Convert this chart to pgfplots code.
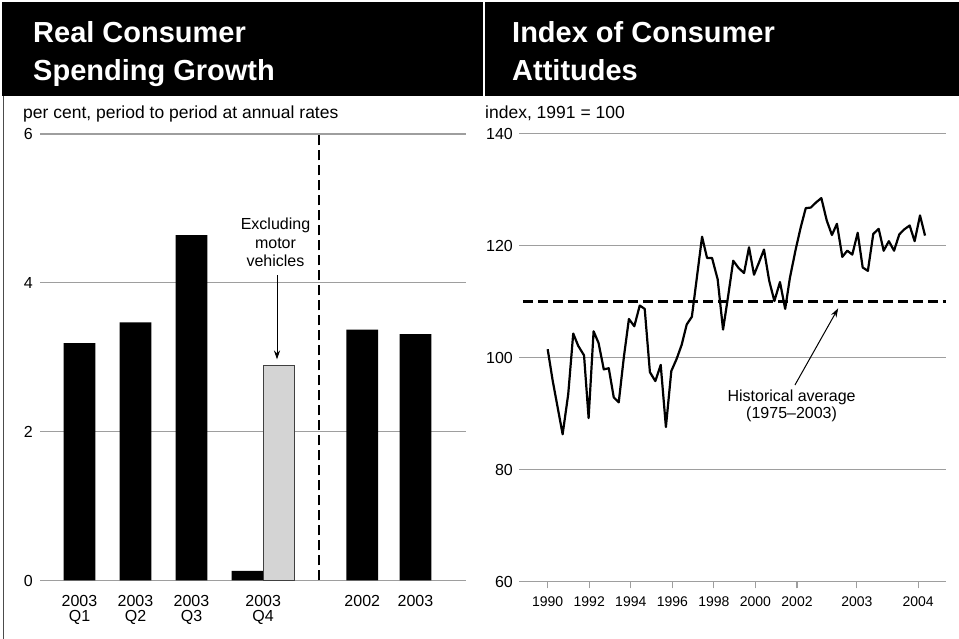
\documentclass[border=0pt]{standalone}
\usepackage{fontspec}
\setmainfont{Liberation Sans}
\usepackage{pgfplots}
\pgfplotsset{compat=1.18}
\usetikzlibrary{arrows.meta}
\begin{document}
\begin{tikzpicture}[x=1pt,y=1pt]
\useasboundingbox (0pt,0pt) rectangle (959pt,639pt);
\fill[white] (0pt,0pt) rectangle (959pt,639pt);
\fill[black] (2pt,543pt) rectangle (482.5pt,637pt);
\fill[black] (485pt,543pt) rectangle (959pt,637pt);
\draw[black!70, line width=1.8pt] (3.5pt,0pt) -- (3.5pt,543pt);
\node[anchor=base west, inner sep=0pt, text=white, font={\fontsize{29}{29}\selectfont\bfseries}] at (33pt,596pt) {Real Consumer};
\node[anchor=base west, inner sep=0pt, text=white, font={\fontsize{29}{29}\selectfont\bfseries}] at (33pt,558pt) {Spending Growth};
\node[anchor=base west, inner sep=0pt, text=white, font={\fontsize{29}{29}\selectfont\bfseries}] at (512pt,596pt) {Index of Consumer};
\node[anchor=base west, inner sep=0pt, text=white, font={\fontsize{29}{29}\selectfont\bfseries}] at (512pt,558pt) {Attitudes};
\node[anchor=base west, inner sep=0pt, font={\fontsize{17.5}{18}\selectfont}] at (23pt,520pt) {per cent, period to period at annual rates};
\node[anchor=base west, inner sep=0pt, font={\fontsize{17.5}{18}\selectfont}] at (485pt,520pt) {index, 1991 = 100};

\begin{axis}[
  at={(40pt,58.5pt)}, anchor=south west, scale only axis,
  width=426pt, height=446.5pt,
  xmin=0.295, xmax=7.902, ymin=0, ymax=6,
  axis line style={draw=none},
  ytick={0,2,4,6}, ymajorgrids,
  grid style={draw=black!38, line width=1.1pt},
  major tick length=0pt,
  xtick={1,2,3,4.28,6.05,7.0},
  xticklabels={{2003\\Q1},{2003\\Q2},{2003\\Q3},{2003\\Q4},2002,2003},
  xticklabel style={align=center, anchor=north, inner sep=0pt, yshift=-15pt, font={\fontsize{16}{14.5}\selectfont}},
  yticklabel style={anchor=east, inner sep=0pt, xshift=-7pt, font={\fontsize{16}{16}\selectfont}},
  /pgf/number format/assume math mode=true,
  clip=false,
]
\addplot[ybar, bar width=0.565, bar shift=0pt, fill=black, draw=none]
  coordinates {(1,3.19) (2,3.47) (3,4.64) (4,0.13) (6.05,3.37) (7.0,3.31)};
\addplot[ybar, bar width=0.555, bar shift=0pt, fill=black!17, draw=black!75, line width=1pt]
  coordinates {(4.56,2.89)};
\addplot[black, line width=2.6pt, dash pattern=on 10pt off 5pt] coordinates {(5.28,0) (5.28,6)};
\node[anchor=north, align=center, inner sep=0pt, font={\fontsize{16}{18.5}\selectfont}] at (axis cs:4.5,4.875) {Excluding\\motor\\vehicles};
\draw[-{Stealth[length=9pt,width=6pt]}, line width=1pt] (axis cs:4.527,4.1) -- (axis cs:4.527,2.97);
\end{axis}

\begin{axis}[
  at={(519pt,57.5pt)}, anchor=south west, scale only axis,
  width=427pt, height=447.8pt,
  xmin=-1.38, xmax=19.17, ymin=60, ymax=140,
  axis line style={draw=none},
  ytick={60,80,100,120,140}, ymajorgrids,
  grid style={draw=black!38, line width=1.1pt},
  xtick={0,2,4,6,8,10,12,14.88,17.83},
  xticklabels={1990,1992,1994,1996,1998,2000,2002,2003,2004},
  xtick pos=left, tick align=outside, major tick length=7pt,
  xtick style={draw=black!38, line width=1.1pt},
  ytick style={draw=none},
  xticklabel style={anchor=north, inner sep=0pt, yshift=-8.5pt, font={\fontsize{14}{14}\selectfont}},
  yticklabel style={anchor=east, inner sep=0pt, xshift=1pt, font={\fontsize{16}{16}\selectfont}},
  /pgf/number format/assume math mode=true,
  clip=false,
]
\addplot[black, line width=2.6pt, dash pattern=on 10pt off 5pt] coordinates {(-1.19,110) (19.17,110)};
\addplot[black, line width=2.2pt, line join=round] coordinates {
(0.00,101.5) (0.24,95.9) (0.72,86.3) (0.99,93.5) (1.23,104.3) (1.47,102.1) (1.75,100.4)
(1.97,89.2) (2.21,104.7) (2.45,102.6) (2.70,97.9) (2.94,98.1) (3.18,92.9) (3.42,92.0)
(3.67,100.2) (3.91,106.9) (4.17,105.6) (4.43,109.3) (4.67,108.7) (4.92,97.4) (5.18,95.8)
(5.44,98.7) (5.69,87.6) (5.95,97.6) (6.21,99.8) (6.45,102.3) (6.69,105.9) (6.94,107.3)
(7.43,121.6) (7.67,117.8) (7.91,117.8) (8.18,114.0) (8.44,105.0) (8.69,111.1) (8.93,117.3)
(9.19,116.0) (9.45,115.1) (9.69,119.7) (9.93,114.8) (10.17,117.0) (10.41,119.3) (10.66,113.75)
(10.91,110.1) (11.18,113.5) (11.43,108.7) (11.66,114.3) (11.94,119.4) (12.18,123.3) (12.42,126.7)
(12.66,126.8) (12.91,127.7) (13.17,128.5) (13.43,124.5) (13.68,121.9) (13.92,123.9) (14.18,118.0)
(14.42,119.1) (14.66,118.4) (14.92,122.3) (15.16,116.1) (15.41,115.5) (15.67,122.1) (15.93,123.0)
(16.17,119.1) (16.42,120.8) (16.67,119.1) (16.92,122.0) (17.16,122.9) (17.42,123.6) (17.66,120.8)
(17.92,125.4) (18.16,121.8)
};
\node[anchor=north, align=center, inner sep=0pt, font={\fontsize{16}{17}\selectfont}] at (axis cs:11.74,94.2) {Historical average\\(1975–2003)};
\draw[-{Stealth[length=9pt,width=6pt]}, line width=1pt] (axis cs:11.9,95.1) -- (axis cs:13.98,108.8);
\end{axis}
\end{tikzpicture}
\end{document}
